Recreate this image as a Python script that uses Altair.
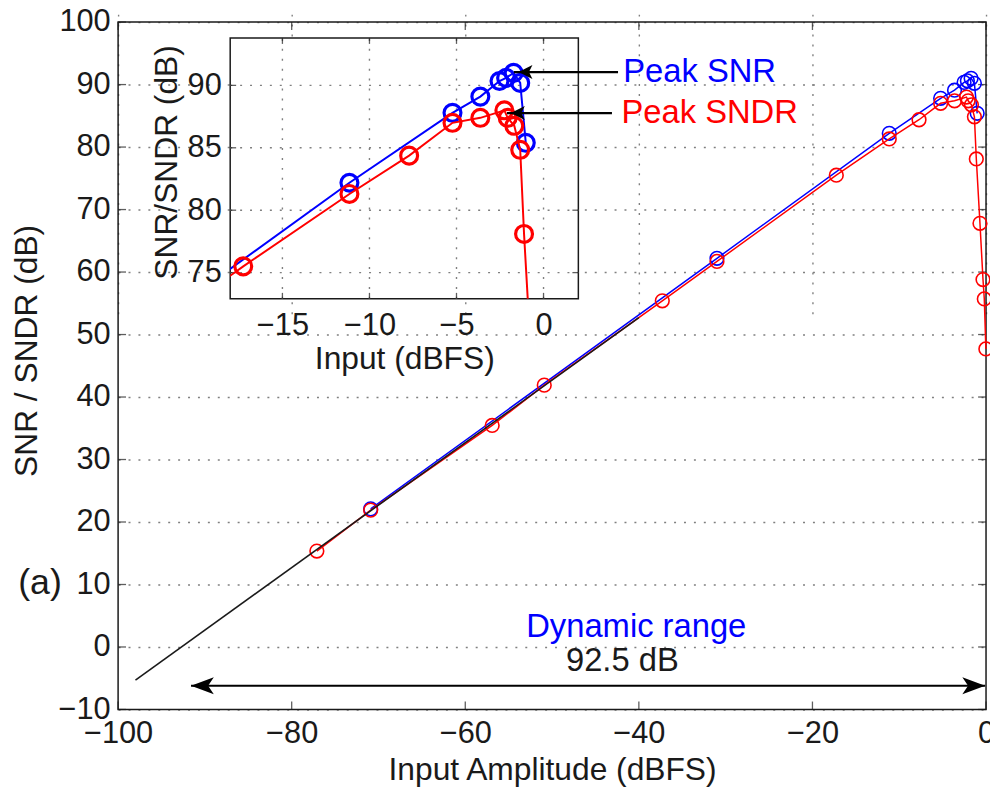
import altair as alt
import pandas as pd

FONT = "Liberation Sans"
INK = "#1a1a1a"
GRID = "#808080"

# ---------------- data ----------------
SNDR_X = [-77.1, -70.9, -56.9, -50.9, -37.3, -31.0, -17.25, -11.15, -7.72, -5.23,
          -3.63, -2.25, -2.06, -1.68, -1.34, -1.12, -0.70, -0.35, -0.20, -0.02]
SNDR_Y = [15.35, 21.9, 35.45, 41.9, 55.4, 61.7, 75.5, 81.3, 84.37, 87.0,
          87.4, 88.0, 87.4, 86.76, 84.84, 78.1, 67.8, 58.8, 55.7, 47.7]
SNR_X = [-70.9, -31.0, -11.15, -5.23, -3.63, -2.53, -2.15, -1.72, -1.34, -1.02]
SNR_Y = [22.1, 62.2, 82.2, 87.8, 89.1, 90.35, 90.6, 91.0, 90.2, 85.4]
IDEAL_X = [-98.0, -40.0]
IDEAL_Y = [-5.3, 52.7]

MAIN_X_TICKS = [-100, -80, -60, -40, -20, 0]
MAIN_Y_TICKS = [-10, 0, 10, 20, 30, 40, 50, 60, 70, 80, 90, 100]
INSET_X_TICKS = [-15, -10, -5, 0]
INSET_Y_TICKS = [75, 80, 85, 90]
MAIN_X_DOMAIN = [-100, 0]
MAIN_Y_DOMAIN = [-10, 100]
INSET_X_DOMAIN = [-18, 2]
INSET_Y_DOMAIN = [72.9, 93.8]

# annotations
LABEL_TEXT = ["Peak SNR", "Peak SNDR", "Dynamic range", "92.5 dB"]
LABEL_X = [-41.8, -42.0, -40.3, -41.9]
LABEL_Y = [92.0, 85.4, 3.2, -2.2]
LABEL_COLOR = ["#0000ff", "#ff0000", "#0000ff", INK]
LABEL_ALIGN = ["left", "left", "center", "center"]
PEAK_ARROW_X1 = [-42.4, -43.1]
PEAK_ARROW_X2 = [-54.4, -55.2]
PEAK_ARROW_TIP = [-53.86, -54.74]
PEAK_ARROW_Y = [92.0, 85.44]
DR_X1, DR_X2, DR_Y = -91.6, -0.1, -6.2

sndr = pd.DataFrame({"x": SNDR_X, "y": SNDR_Y})
snr = pd.DataFrame({"x": SNR_X, "y": SNR_Y})
ideal = pd.DataFrame({"x": IDEAL_X, "y": IDEAL_Y})
one = pd.DataFrame({"a": [0]})

# ---------------- geometry ----------------
W, H = 351, 263                 # the view = inset plot area
MAIN_XR = [-113, 762]           # main plot in view pixel coords
MAIN_YR = [677, -16]

mx = alt.Scale(domain=MAIN_X_DOMAIN, range=MAIN_XR, nice=False, zero=False)
my = alt.Scale(domain=MAIN_Y_DOMAIN, range=MAIN_YR, nice=False, zero=False)
ix = alt.Scale(domain=INSET_X_DOMAIN, nice=False, zero=False)
iy = alt.Scale(domain=INSET_Y_DOMAIN, nice=False, zero=False)

lab = dict(labelFont=FONT, labelFontSize=31, labelColor=INK, labelOverlap=False,
           labelFlush=False, labelBound=False, titleFont=FONT, titleFontSize=32,
           titleFontWeight="normal", titleColor=INK, ticks=False, domain=False)

main_x_axis = alt.Axis(values=MAIN_X_TICKS, orient="bottom", offset=414, grid=True,
                       gridDash=[2, 8], gridColor=GRID, gridWidth=1.4, labelPadding=9,
                       title="Input Amplitude (dBFS)", titleY=61, titleBaseline="middle", **lab)
main_y_axis = alt.Axis(values=MAIN_Y_TICKS, orient="left", offset=113, grid=True,
                       gridDash=[2, 8], gridColor=GRID, gridWidth=1.4, labelPadding=8,
                       title="SNR / SNDR (dB)", titleX=-92, titleY=315, titleAngle=270,
                       titleAlign="center", titleBaseline="middle", **lab)
inset_x_axis = alt.Axis(values=INSET_X_TICKS, orient="bottom", grid=False, labelPadding=12,
                        title="Input (dBFS)", titleY=60, titleBaseline="middle", **lab)
inset_y_axis = alt.Axis(values=INSET_Y_TICKS, orient="left", grid=False, labelPadding=9,
                        title="SNR/SNDR (dB)", titleX=-64, titleY=125, titleAngle=270,
                        titleAlign="center", titleBaseline="middle", **lab)

# encoding helpers: every layer of a group carries the same axis definition
def MX(f=None, datum=None):
    return alt.X(f, scale=mx, axis=main_x_axis) if f else alt.X(datum=datum, scale=mx, axis=main_x_axis)
def MY(f=None, datum=None):
    return alt.Y(f, scale=my, axis=main_y_axis) if f else alt.Y(datum=datum, scale=my, axis=main_y_axis)
def IX(f=None, datum=None):
    return alt.X(f, scale=ix, axis=inset_x_axis) if f else alt.X(datum=datum, scale=ix, axis=inset_x_axis)
def IY(f=None, datum=None):
    return alt.Y(f, scale=iy, axis=inset_y_axis) if f else alt.Y(datum=datum, scale=iy, axis=inset_y_axis)
def AX(f=None, datum=None):
    return alt.X(f, scale=mx, axis=None) if f else alt.X(datum=datum, scale=mx, axis=None)
def AY(f=None, datum=None):
    return alt.Y(f, scale=my, axis=None) if f else alt.Y(datum=datum, scale=my, axis=None)

# inward tick marks on all four sides of a box
def box_ticks(fx, fy, xt, yt, xdom, ydom, ln):
    out = []
    for yv, off in ((ydom[0], -ln / 2), (ydom[1], ln / 2)):
        out.append(alt.Chart(pd.DataFrame({"x": xt})).mark_tick(
            orient="vertical", size=ln, thickness=1.3, color=INK, yOffset=off
        ).encode(x=fx("x:Q"), y=fy(datum=yv)))
    for xv, off in ((xdom[0], ln / 2), (xdom[1], -ln / 2)):
        out.append(alt.Chart(pd.DataFrame({"y": yt})).mark_tick(
            orient="horizontal", size=ln, thickness=1.3, color=INK, xOffset=off
        ).encode(y=fy("y:Q"), x=fx(datum=xv)))
    return out

def series(df, color, fx, fy, size, sw, lw, clip=False):
    line = alt.Chart(df).mark_line(color=color, strokeWidth=lw, clip=clip).encode(
        x=fx("x:Q"), y=fy("y:Q"))
    pts = alt.Chart(df).mark_point(shape="circle", filled=False, color=color, size=size,
                                   strokeWidth=sw, opacity=1, clip=clip).encode(
        x=fx("x:Q"), y=fy("y:Q"))
    return line, pts

# ---------------- main plot ----------------
frame = alt.Chart(one).mark_rect(fillOpacity=0, stroke=INK, strokeWidth=1.5).encode(
    x=MX(datum=MAIN_X_DOMAIN[0]), x2=alt.X2(datum=MAIN_X_DOMAIN[1]),
    y=MY(datum=MAIN_Y_DOMAIN[0]), y2=alt.Y2(datum=MAIN_Y_DOMAIN[1]),
)
b_line, b_pts = series(snr, "#0000ff", MX, MY, 190, 1.6, 1.5)
r_line, r_pts = series(sndr, "#ff0000", MX, MY, 190, 1.6, 1.5)
ideal_line = alt.Chart(ideal).mark_line(color=INK, strokeWidth=1.6).encode(x=MX("x:Q"), y=MY("y:Q"))

main = alt.layer(
    frame,
    *box_ticks(MX, MY, MAIN_X_TICKS, MAIN_Y_TICKS, MAIN_X_DOMAIN, MAIN_Y_DOMAIN, 8),
    b_line, b_pts, r_line, r_pts, ideal_line,
)

# ---------------- inset ----------------
inset_bg = alt.Chart(one).mark_rect(fill="white", stroke=INK, strokeWidth=1.5).encode(
    x=IX(datum=INSET_X_DOMAIN[0]), x2=alt.X2(datum=INSET_X_DOMAIN[1]),
    y=IY(datum=INSET_Y_DOMAIN[0]), y2=alt.Y2(datum=INSET_Y_DOMAIN[1]),
)
igx = alt.Chart(pd.DataFrame({"x": INSET_X_TICKS})).mark_rule(
    color=GRID, strokeDash=[2, 8], strokeWidth=1.4
).encode(x=IX("x:Q"), y=IY(datum=INSET_Y_DOMAIN[0]), y2=alt.Y2(datum=INSET_Y_DOMAIN[1]))
igy = alt.Chart(pd.DataFrame({"y": INSET_Y_TICKS})).mark_rule(
    color=GRID, strokeDash=[2, 8], strokeWidth=1.4
).encode(y=IY("y:Q"), x=IX(datum=INSET_X_DOMAIN[0]), x2=alt.X2(datum=INSET_X_DOMAIN[1]))

ib_line, ib_pts = series(snr, "#0000ff", IX, IY, 290, 3.2, 2.0, clip=True)
ir_line, ir_pts = series(sndr, "#ff0000", IX, IY, 290, 3.2, 2.0, clip=True)

inset = alt.layer(inset_bg, igx, igy,
                  *box_ticks(IX, IY, INSET_X_TICKS, INSET_Y_TICKS, INSET_X_DOMAIN, INSET_Y_DOMAIN, 6),
                  ib_line, ib_pts, ir_line, ir_pts)

# ---------------- annotations (main coordinates, no axes) ----------------
labels = pd.DataFrame({"t": LABEL_TEXT, "x": LABEL_X, "y": LABEL_Y,
                       "c": LABEL_COLOR, "al": LABEL_ALIGN})
def text_layer(align):
    return alt.Chart(labels).transform_filter(alt.datum.al == align).mark_text(
        font=FONT, fontSize=33, align=align, baseline="middle"
    ).encode(x=AX("x:Q"), y=AY("y:Q"), text="t:N", color=alt.Color("c:N", scale=None))

tag = alt.Chart(pd.DataFrame({"t": ["(a)"]})).mark_text(
    font=FONT, fontSize=36, align="center", baseline="middle", color=INK
).encode(x=AX(datum=-109), y=AY(datum=10.2), text="t:N")

peak = pd.DataFrame({"x1": PEAK_ARROW_X1, "x2": PEAK_ARROW_X2, "tip": PEAK_ARROW_TIP, "y": PEAK_ARROW_Y})
peak_shaft = alt.Chart(peak).mark_rule(color="black", strokeWidth=2.2).encode(
    x=AX("x1:Q"), x2="x2:Q", y=AY("y:Q"))
peak_head = alt.Chart(peak).mark_point(
    shape="M0,0L2,-1L1.5,0L2,1Z", filled=True, color="black", size=196, opacity=1
).encode(x=AX("tip:Q"), y=AY("y:Q"))

dr = pd.DataFrame({"x1": [DR_X1], "x2": [DR_X2], "y": [DR_Y]})
dr_shaft = alt.Chart(dr).mark_rule(color="black", strokeWidth=2.0).encode(
    x=AX("x1:Q"), x2="x2:Q", y=AY("y:Q"))
dr_left = alt.Chart(dr).mark_point(
    shape="M0,0L2,-0.75L1.5,0L2,0.75Z", filled=True, color="black", size=529, opacity=1
).encode(x=AX("x1:Q"), y=AY("y:Q"))
dr_right = alt.Chart(dr).mark_point(
    shape="M0,0L-2,-0.75L-1.5,0L-2,0.75Z", filled=True, color="black", size=529, opacity=1
).encode(x=AX("x2:Q"), y=AY("y:Q"))

annot = alt.layer(text_layer("left"), text_layer("center"), tag,
                  peak_shaft, peak_head, dr_shaft, dr_left, dr_right)

chart = alt.layer(main, inset, annot).resolve_scale(
    x="independent", y="independent"
).properties(
    width=W, height=H,
    autosize=alt.AutoSizeParams(type="none"),
    padding={"left": 224, "top": 27, "right": 415, "bottom": 493},
    background="white",
).configure_view(stroke=None)

chart.save("out.html", embed_options={"renderer": "svg", "actions": False})
